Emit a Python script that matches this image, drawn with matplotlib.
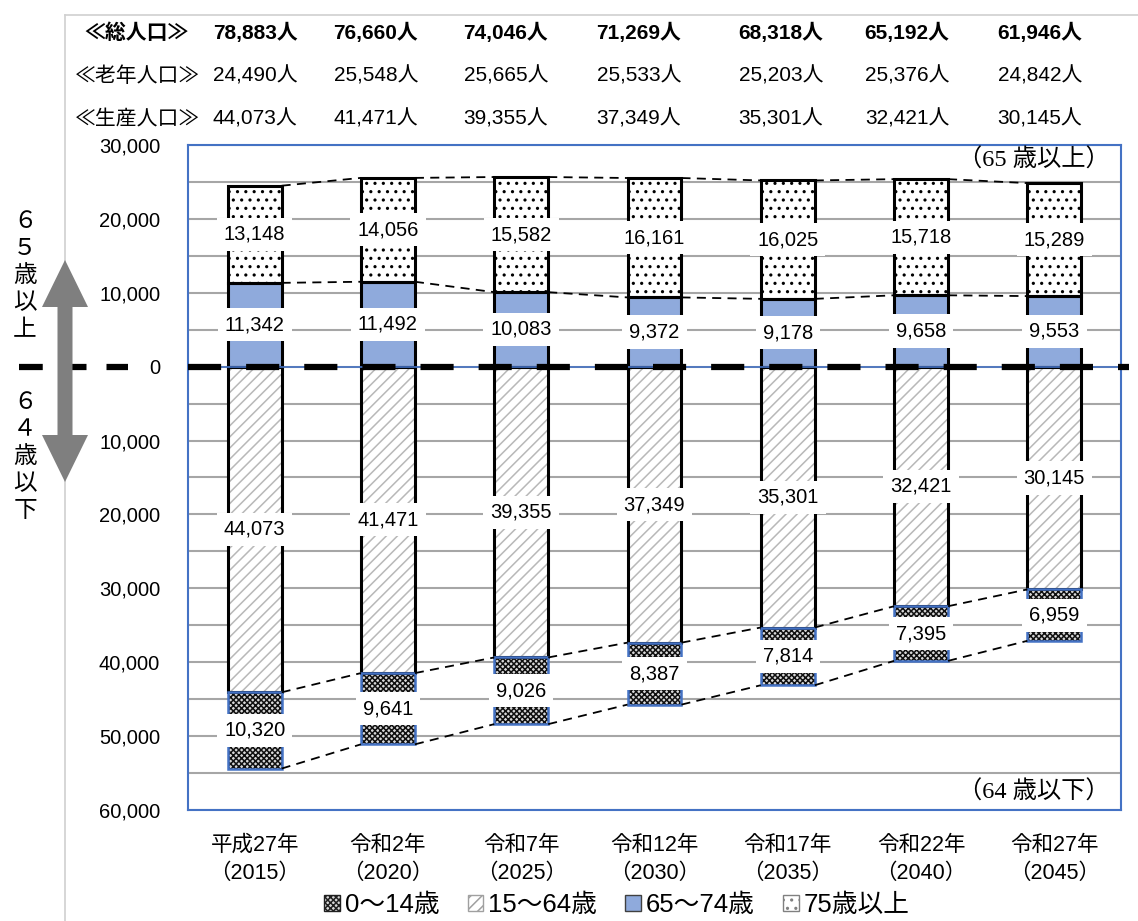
import matplotlib.pyplot as plt
from matplotlib.patches import Patch, Polygon
from matplotlib.lines import Line2D
import numpy as np

plt.rcParams['font.family'] = ['Liberation Sans', 'Noto Sans CJK JP']
plt.rcParams['hatch.linewidth'] = 1.1

# --- data ---
years = ['平成27年\n（2015）', '令和2年\n（2020）', '令和7年\n（2025）', '令和12年\n（2030）',
         '令和17年\n（2035）', '令和22年\n（2040）', '令和27年\n（2045）']
age_0_14 = [10320, 9641, 9026, 8387, 7814, 7395, 6959]
age_15_64 = [44073, 41471, 39355, 37349, 35301, 32421, 30145]
age_65_74 = [11342, 11492, 10083, 9372, 9178, 9658, 9553]
age_75_over = [13148, 14056, 15582, 16161, 16025, 15718, 15289]
total_pop = [78883, 76660, 74046, 71269, 68318, 65192, 61946]
elderly_pop = [24490, 25548, 25665, 25533, 25203, 25376, 24842]
working_pop = [44073, 41471, 39355, 37349, 35301, 32421, 30145]
legend_labels = ['0～14歳', '15～64歳', '65～74歳', '75歳以上']

W, H = 1138, 921
def fx(px):
    return px / W
def fy(py):
    return 1 - py / H

BLUE = '#4472C4'
FILL_BLUE = '#8FAADC'

fig = plt.figure(figsize=(W / 100, H / 100), dpi=100)
ax = fig.add_axes([fx(188), fy(810), fx(1121) - fx(188), fy(145) - fy(810)])

x = np.arange(len(years))
w = 0.405
young = -np.array(age_0_14)
work = -np.array(age_15_64)
old1 = np.array(age_65_74)
old2 = np.array(age_75_over)


def hatched_bar(h, bottom, face, hatch, hcol, edge, lw):
    ax.bar(x, h, w, bottom=bottom, color=face, edgecolor=hcol, hatch=hatch,
           linewidth=0, zorder=2)
    ax.bar(x, h, w, bottom=bottom, fill=False, edgecolor=edge, linewidth=lw, zorder=2.5)


hatched_bar(old1, 0, FILL_BLUE, None, FILL_BLUE, 'black', 2.2)
hatched_bar(old2, old1, 'white', '..', 'black', 'black', 2.2)
hatched_bar(work, 0, 'white', '///', '#b8b8b8', 'black', 2.2)
hatched_bar(young, work, '#d8d8d8', 'xxxxxx', '#101010', BLUE, 1.8)


def series_line(tops):
    for i in range(len(x) - 1):
        ax.plot([x[i] + w / 2, x[i + 1] - w / 2], [tops[i], tops[i + 1]],
                color='black', lw=1.3, dashes=(5, 3.5), zorder=3)


series_line(old1)
series_line(old1 + old2)
series_line(work)
series_line(work + young)

# zero lines
ax.axhline(0, color=BLUE, lw=1.2, zorder=3)
ax.plot([-0.5, 6.56], [0, 0], color='black', lw=4.5, dashes=(5.3, 4), clip_on=False,
        zorder=4, solid_capstyle='butt')


def seg_labels(vals, centers):
    for xi, v, c in zip(x, vals, centers):
        ax.text(xi, c, f'{v:,}', ha='center', va='center', fontsize=14.5, zorder=5,
                bbox=dict(boxstyle='square,pad=0.35', fc='white', ec='none'))


seg_labels(age_65_74, old1 / 2)
seg_labels(age_75_over, old1 + old2 / 2)
seg_labels(age_15_64, work / 2)
seg_labels(age_0_14, work + young / 2)

# axes styling
ax.set_xlim(-0.5, 6.5)
ax.set_ylim(-60000, 30000)
yt = np.arange(-60000, 30001, 10000)
ax.set_yticks(yt, [f'{abs(v):,}' for v in yt], fontsize=14.5)
ax.set_yticks(np.arange(-55000, 30000, 5000), minor=True)
ax.grid(axis='y', which='both', color='#a6a6a6', lw=1.5)
ax.set_axisbelow(True)
ax.set_xticks(x, years, fontsize=15.5, linespacing=1.45)
ax.tick_params(axis='both', which='both', length=0)
ax.tick_params(axis='y', pad=20)
ax.tick_params(axis='x', pad=18)
for s in ax.spines.values():
    s.set_color(BLUE)
    s.set_linewidth(1.5)

# annotations inside plot
fig.text(fx(1034), fy(160), '（65 歳以上）', ha='center', va='center', fontsize=17.5,
         family=['Liberation Serif', 'Noto Sans CJK JP'])
fig.text(fx(1034), fy(792), '（64 歳以下）', ha='center', va='center', fontsize=17.5,
         family=['Liberation Serif', 'Noto Sans CJK JP'])

# frame lines at the top/left
fig.add_artist(Line2D([fx(65), fx(65)], [fy(15), 0], color='#d0d0d0', lw=1.2, zorder=0))
fig.add_artist(Line2D([fx(65), 1], [fy(15), fy(15)], color='#d0d0d0', lw=1.2, zorder=0))

# left dashed zero line outside the plot
fig.add_artist(Line2D([fx(19), fx(128)], [fy(367), fy(367)], color='black', lw=4.5,
                      dashes=(3.8, 3.2)))

# double arrow
pts = [(65, 260), (88, 307), (72.5, 307), (72.5, 435), (88, 435), (65, 482),
       (42, 435), (57.5, 435), (57.5, 307), (42, 307)]
fig.add_artist(Polygon([(fx(a), fy(b)) for a, b in pts], closed=True,
                       facecolor='#7f7f7f', edgecolor='none', zorder=3))

fig.text(fx(25), fy(276), '６\n５\n歳\n以\n上', ha='center', va='center', fontsize=17,
         linespacing=1.3)
fig.text(fx(25), fy(457), '６\n４\n歳\n以\n下', ha='center', va='center', fontsize=17,
         linespacing=1.3)

# header rows
col_x = [255, 376, 506, 639, 781, 907, 1040]
rows = [('≪総人口≫', total_pop, 33, 'bold'),
        ('≪老年人口≫', elderly_pop, 76, 'normal'),
        ('≪生産人口≫', working_pop, 119, 'normal')]
for label, vals, yy, wt in rows:
    fig.text(fx(137), fy(yy), label, ha='center', va='center', fontsize=15, weight=wt)
    for cx, v in zip(col_x, vals):
        fig.text(fx(cx), fy(yy), f'{v:,}人', ha='center', va='center', fontsize=15,
                 weight=wt)

# legend
handles = [Patch(facecolor='#d8d8d8', edgecolor='#202020', hatch='xxxxxx'),
           Patch(facecolor='white', edgecolor='#a0a0a0', hatch='///'),
           Patch(facecolor=FILL_BLUE, edgecolor='#404040'),
           Patch(facecolor='white', edgecolor='#808080', hatch='..')]
fig.legend(handles, legend_labels, loc='center', bbox_to_anchor=(fx(617), fy(905)),
           ncol=4, frameon=False, fontsize=18.5, handlelength=0.6, handleheight=0.6,
           handletextpad=0.2, columnspacing=1.1, borderpad=0)

fig.savefig('out.png', dpi=100)
